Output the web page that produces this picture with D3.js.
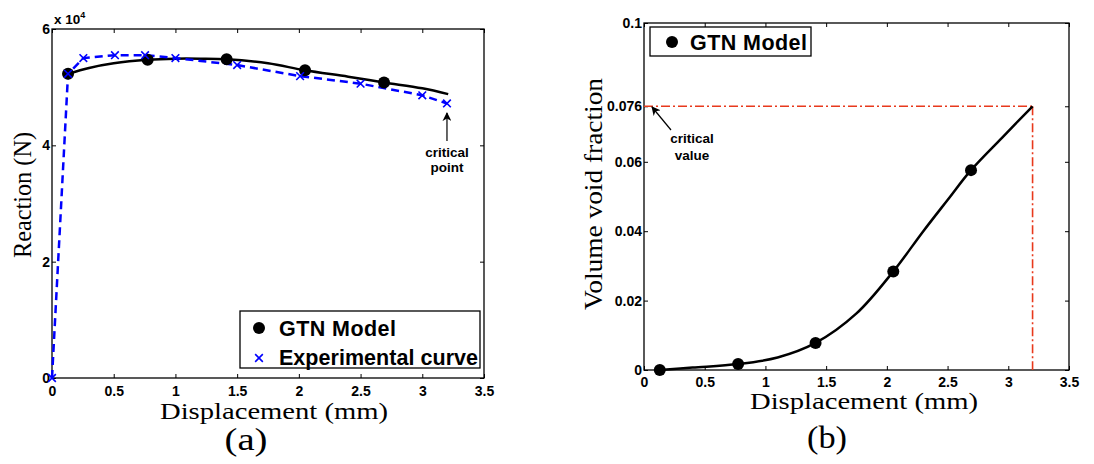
<!DOCTYPE html>
<html>
<head>
<meta charset="utf-8">
<script src="https://cdn.jsdelivr.net/npm/d3@7"></script>
<style>
  body { margin: 0; background: #fff; }
  svg { display: block; }
  .tick text { font-family: "Liberation Sans", Arial, sans-serif; font-weight: bold; font-size: 14px; fill: #000; }
  .serif { font-family: "Liberation Serif", "Times New Roman", serif; fill: #000; }
  .sans { font-family: "Liberation Sans", Arial, sans-serif; font-weight: bold; fill: #000; }
</style>
</head>
<body>
<svg id="chart" width="1094" height="464"></svg>
<script>
// ---- panel (a): reaction vs displacement
const gtnLineX = [0.13, 0.3, 0.5, 0.775, 1.0, 1.2, 1.415, 1.75, 2.05, 2.4, 2.69, 3.0, 3.21];
const gtnLineY = [52300, 53300, 54100, 54700, 54900, 54900, 54800, 54100, 52900, 51800, 50800, 49800, 48800];
const gtnMarkX = [0.13, 0.775, 1.415, 2.05, 2.69];
const gtnMarkY = [52300, 54700, 54800, 52900, 50800];
const expX = [0, 0.13, 0.254, 0.51, 0.754, 1.0, 1.5, 2.01, 2.5, 3.0, 3.2];
const expY = [0, 52300, 55000, 55500, 55500, 55000, 53800, 51900, 50600, 48600, 47200];
const xTicksA = [0, 0.5, 1, 1.5, 2, 2.5, 3, 3.5];
const yTicksA = [0, 20000, 40000, 60000];
const yTickLabelsA = ["0", "2", "4", "6"];

// ---- panel (b): void fraction vs displacement
const vvfLineX = [0.13, 0.4, 0.775, 1.1, 1.413, 1.75, 2.053, 2.3, 2.5, 2.693, 2.95, 3.2];
const vvfLineY = [0, 0.0007, 0.0017, 0.0036, 0.0078, 0.0163, 0.0284, 0.0400, 0.0490, 0.0576, 0.0670, 0.076];
const vvfMarkX = [0.13, 0.775, 1.413, 2.053, 2.693];
const vvfMarkY = [0, 0.0017, 0.0078, 0.0284, 0.0576];
const criticalX = 3.2, criticalVvf = 0.076;
const xTicksB = [0, 0.5, 1, 1.5, 2, 2.5, 3, 3.5];
const yTicksB = [0, 0.02, 0.04, 0.06, 0.076, 0.1];

const svg = d3.select("#chart");
const zip = (xs, ys) => xs.map((x, i) => ({x: x, y: ys[i]}));

const defs = svg.append("defs");
defs.append("marker")
  .attr("id", "arrow")
  .attr("viewBox", "0 0 10 10")
  .attr("refX", 9).attr("refY", 5)
  .attr("markerWidth", 9).attr("markerHeight", 9)
  .attr("markerUnits", "userSpaceOnUse")
  .attr("orient", "auto")
  .append("path").attr("d", "M0,0 L10,5 L0,10 L3,5 Z").attr("fill", "#000");

// draws the box, inward ticks on all four sides and the tick labels
function drawFrame(g, x, y, w, h, xTicks, yTicks, yFmt, pad) {
  g.append("g")
    .attr("transform", "translate(0," + h + ")")
    .call(d3.axisBottom(x).tickValues(xTicks).tickFormat(d => String(d))
      .tickSizeInner(-4).tickSizeOuter(0).tickPadding(pad))
    .call(a => a.select(".domain").remove());
  g.append("g")
    .call(d3.axisTop(x).tickValues(xTicks).tickFormat("")
      .tickSizeInner(-4).tickSizeOuter(0))
    .call(a => a.select(".domain").remove());
  g.append("g")
    .call(d3.axisLeft(y).tickValues(yTicks).tickFormat(yFmt)
      .tickSizeInner(-4).tickSizeOuter(0).tickPadding(2))
    .call(a => a.select(".domain").remove());
  g.append("g")
    .attr("transform", "translate(" + w + ",0)")
    .call(d3.axisRight(y).tickValues(yTicks).tickFormat("")
      .tickSizeInner(-4).tickSizeOuter(0))
    .call(a => a.select(".domain").remove());
  g.selectAll(".tick line").attr("stroke", "#000").attr("stroke-width", 1);
  g.append("rect")
    .attr("width", w).attr("height", h)
    .attr("fill", "none").attr("stroke", "#000").attr("stroke-width", 1.3);
}

// ================= panel (a)
const A = {left: 52, top: 29, width: 432, height: 349};
const gA = svg.append("g").attr("transform", "translate(" + A.left + "," + A.top + ")");
const xA = d3.scaleLinear().domain([0, 3.5]).range([0, A.width]);
const yA = d3.scaleLinear().domain([0, 60000]).range([A.height, 0]);

drawFrame(gA, xA, yA, A.width, A.height, xTicksA, yTicksA, (d, i) => yTickLabelsA[i], 8);

// GTN model curve
gA.append("path")
  .datum(zip(gtnLineX, gtnLineY))
  .attr("fill", "none").attr("stroke", "#000").attr("stroke-width", 2.5)
  .attr("d", d3.line().x(d => xA(d.x)).y(d => yA(d.y)).curve(d3.curveCatmullRom));

// experimental curve
gA.append("path")
  .datum(zip(expX, expY))
  .attr("fill", "none").attr("stroke", "#0000ff").attr("stroke-width", 2.5)
  .attr("stroke-dasharray", "8,5")
  .attr("d", d3.line().x(d => xA(d.x)).y(d => yA(d.y)));

gA.selectAll(".gtn-dot")
  .data(zip(gtnMarkX, gtnMarkY))
  .join("circle")
  .attr("cx", d => xA(d.x)).attr("cy", d => yA(d.y))
  .attr("r", 6).attr("fill", "#000");

const cross = d3.symbol().type(d3.symbolX).size(40);
gA.selectAll(".exp-x")
  .data(zip(expX, expY))
  .join("path")
  .attr("transform", d => "translate(" + xA(d.x) + "," + yA(d.y) + ")")
  .attr("d", cross)
  .attr("fill", "none").attr("stroke", "#0000ff").attr("stroke-width", 1.6);

// multiplier
const mult = gA.append("text").attr("class", "sans")
  .attr("x", 2).attr("y", -5).attr("font-size", 13.5);
mult.append("tspan").text("x 10");
mult.append("tspan").attr("dy", -6).attr("font-size", 9).text("4");

// critical point annotation
const cpX = xA(expX[expX.length - 1]);
gA.append("line")
  .attr("x1", cpX).attr("y1", 112).attr("x2", cpX).attr("y2", 84)
  .attr("stroke", "#000").attr("stroke-width", 1.2).attr("marker-end", "url(#arrow)");
gA.append("text").attr("class", "sans").attr("font-size", 13.5)
  .attr("text-anchor", "middle").attr("x", cpX).attr("y", 128).text("critical");
gA.append("text").attr("class", "sans").attr("font-size", 13.5)
  .attr("text-anchor", "middle").attr("x", cpX).attr("y", 143).text("point");

// legend (a)
const legA = gA.append("g").attr("transform", "translate(188,282)");
legA.append("rect").attr("width", 240).attr("height", 57)
  .attr("fill", "#fff").attr("stroke", "#000").attr("stroke-width", 1.3);
legA.append("circle").attr("cx", 19).attr("cy", 17).attr("r", 6).attr("fill", "#000");
legA.append("text").attr("class", "sans").attr("font-size", 21.5)
  .attr("x", 39).attr("y", 25).attr("textLength", 117).text("GTN Model");
legA.append("path").attr("transform", "translate(19,47)").attr("d", cross)
  .attr("fill", "none").attr("stroke", "#0000ff").attr("stroke-width", 1.6);
legA.append("text").attr("class", "sans").attr("font-size", 21.5)
  .attr("x", 39).attr("y", 54).attr("textLength", 199).text("Experimental curve");

// axis titles (a)
svg.append("text").attr("class", "serif").attr("font-size", 23.5)
  .attr("text-anchor", "middle").attr("x", 274).attr("y", 419)
  .attr("textLength", 228).attr("lengthAdjust", "spacingAndGlyphs").text("Displacement (mm)");
svg.append("text").attr("class", "serif").attr("font-size", 25)
  .attr("text-anchor", "middle").attr("transform", "translate(31,195) rotate(-90)")
  .attr("textLength", 126).attr("lengthAdjust", "spacingAndGlyphs").text("Reaction (N)");
svg.append("text").attr("class", "serif").attr("font-size", 31)
  .attr("text-anchor", "middle").attr("x", 246).attr("y", 450)
  .attr("textLength", 43).attr("lengthAdjust", "spacingAndGlyphs").text("(a)");

// ================= panel (b)
const B = {left: 644, top: 23, width: 425, height: 347};
const gB = svg.append("g").attr("transform", "translate(" + B.left + "," + B.top + ")");
const xB = d3.scaleLinear().domain([0, 3.5]).range([0, B.width]);
const yB = d3.scaleLinear().domain([0, 0.1]).range([B.height, 0]);

drawFrame(gB, xB, yB, B.width, B.height, xTicksB, yTicksB, d => String(d), 7);

// critical value dash-dot guides
const red = "#e8391c";
gB.append("line")
  .attr("x1", xB(0)).attr("y1", yB(criticalVvf)).attr("x2", xB(criticalX)).attr("y2", yB(criticalVvf))
  .attr("stroke", red).attr("stroke-width", 1.6).attr("stroke-dasharray", "9,3,2,3");
gB.append("line")
  .attr("x1", xB(criticalX)).attr("y1", yB(criticalVvf)).attr("x2", xB(criticalX)).attr("y2", yB(0))
  .attr("stroke", red).attr("stroke-width", 1.6).attr("stroke-dasharray", "9,3,2,3");

gB.append("path")
  .datum(zip(vvfLineX, vvfLineY))
  .attr("fill", "none").attr("stroke", "#000").attr("stroke-width", 2.5)
  .attr("d", d3.line().x(d => xB(d.x)).y(d => yB(d.y)).curve(d3.curveCatmullRom));

gB.selectAll(".vvf-dot")
  .data(zip(vvfMarkX, vvfMarkY))
  .join("circle")
  .attr("cx", d => xB(d.x)).attr("cy", d => yB(d.y))
  .attr("r", 6).attr("fill", "#000");

// critical value annotation
gB.append("line")
  .attr("x1", 27).attr("y1", 107).attr("x2", 8).attr("y2", 84)
  .attr("stroke", "#000").attr("stroke-width", 1.2).attr("marker-end", "url(#arrow)");
gB.append("text").attr("class", "sans").attr("font-size", 13.5)
  .attr("text-anchor", "middle").attr("x", 48).attr("y", 120).text("critical");
gB.append("text").attr("class", "sans").attr("font-size", 13.5)
  .attr("text-anchor", "middle").attr("x", 48).attr("y", 137).text("value");

// legend (b)
const legB = gB.append("g").attr("transform", "translate(6,4)");
legB.append("rect").attr("width", 161).attr("height", 29)
  .attr("fill", "#fff").attr("stroke", "#000").attr("stroke-width", 1.3);
legB.append("circle").attr("cx", 22).attr("cy", 15).attr("r", 6).attr("fill", "#000");
legB.append("text").attr("class", "sans").attr("font-size", 21.5)
  .attr("x", 40).attr("y", 23).attr("textLength", 117).text("GTN Model");

// axis titles (b)
svg.append("text").attr("class", "serif").attr("font-size", 23.5)
  .attr("text-anchor", "middle").attr("x", 864).attr("y", 409)
  .attr("textLength", 228).attr("lengthAdjust", "spacingAndGlyphs").text("Displacement (mm)");
svg.append("text").attr("class", "serif").attr("font-size", 25)
  .attr("text-anchor", "middle").attr("transform", "translate(602,194) rotate(-90)")
  .attr("textLength", 232).attr("lengthAdjust", "spacingAndGlyphs").text("Volume void fraction");
svg.append("text").attr("class", "serif").attr("font-size", 31)
  .attr("text-anchor", "middle").attr("x", 827).attr("y", 448)
  .attr("textLength", 40).attr("lengthAdjust", "spacingAndGlyphs").text("(b)");
</script>
</body>
</html>
